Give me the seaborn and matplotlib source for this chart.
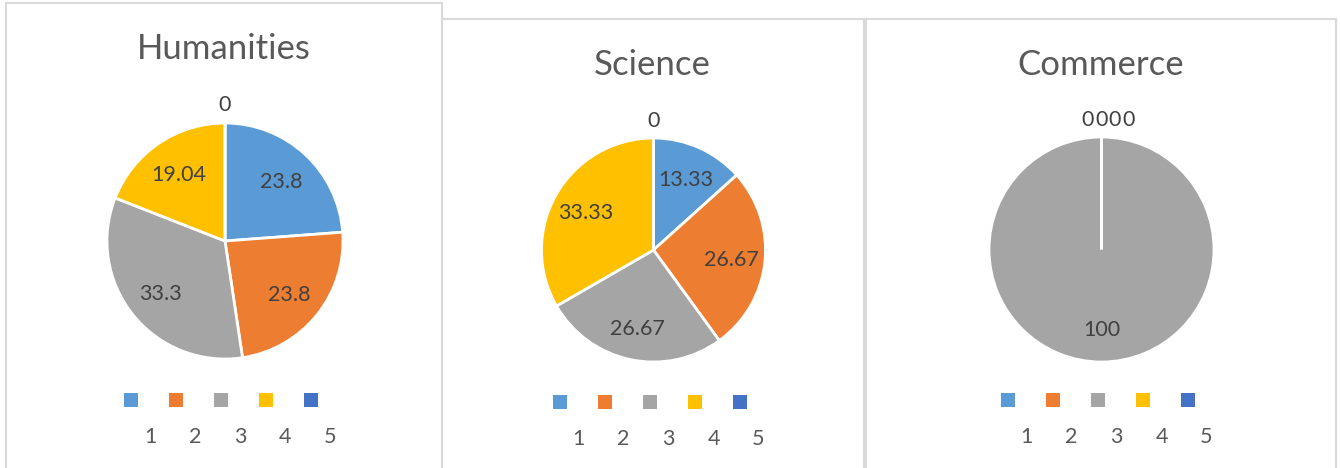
import numpy as np
import pandas as pd
import matplotlib
matplotlib.use('Agg')
import matplotlib.pyplot as plt
import seaborn as sns
from matplotlib.lines import Line2D
from matplotlib.patches import Rectangle

# data
categories = ['1', '2', '3', '4', '5']
humanities = [23.8, 23.8, 33.3, 19.04, 0]
science = [13.33, 26.67, 26.67, 33.33, 0]
commerce = [0, 0, 100, 0, 0]
titles = ['Humanities', 'Science', 'Commerce']

sns.set_theme(style='white')
plt.rcParams['font.family'] = ['Lato', 'DejaVu Sans']
colors = sns.color_palette(['#5B9BD5', '#ED7D31', '#A5A5A5', '#FFC000', '#4472C4'])

W, H = 1340, 468
fig = plt.figure(figsize=(W / 100, H / 100), dpi=100)


def fx(x):
    return x / W


def fy(y):
    return 1 - y / H


# panel borders (pixel layout)
border = '#d9d9d9'
for xs, ys in [([6, 6], [3, 470]), ([6, 442], [3, 3]), ([442, 442], [3, 470]),
               ([442, 864], [19, 19]), ([864, 864], [19, 470]),
               ([866, 1336], [19, 19]), ([866, 866], [19, 470]), ([1336, 1336], [19, 470])]:
    fig.add_artist(Line2D([fx(x) for x in xs], [fy(y) for y in ys],
                          transform=fig.transFigure, color=border, lw=1.5))

# pie layout: center x, center y, radius, title baseline, legend y
layout = [(225, 241, 118, 59, 400), (653.5, 250, 112, 75, 402), (1101.5, 249.5, 112.5, 75, 400)]

df = pd.DataFrame({'category': categories, 'Humanities': humanities,
                   'Science': science, 'Commerce': commerce})

for title, (cx, cy, r, ty, ly) in zip(titles, layout):
    vals = df[title].values
    ax = fig.add_axes([fx(cx - r), fy(cy + r), 2 * r / W, 2 * r / H])
    wedges, _ = ax.pie(vals, colors=colors, startangle=90, counterclock=False,
                       radius=1, wedgeprops={'edgecolor': 'white', 'linewidth': 2})
    ax.set_xlim(-1, 1)
    ax.set_ylim(-1, 1)
    ax.axis('off')

    zeros = [i for i, v in enumerate(vals) if v == 0]
    for i, (w, v) in enumerate(zip(wedges, vals)):
        ang = np.deg2rad((w.theta1 + w.theta2) / 2)
        if v == 0:
            d = 1.17
            k = zeros.index(i)
            dx = (k - 1) * 0.12 if len(zeros) > 1 else 0
        else:
            d = 0.7
            dx = 0
        txt = f'{v:g}'
        ax.text(d * np.cos(ang) + dx, d * np.sin(ang), txt, ha='center', va='center_baseline',
                fontsize=15.5, color='#404040', clip_on=False)

    fig.text(fx(cx - 1), fy(ty), title, ha='center', va='baseline', fontsize=25, color='#595959')

    # legend: squares with numbers set below-right
    for i, c in enumerate(categories):
        sx = cx - 4 + (i - 2) * 45
        fig.add_artist(Rectangle((fx(sx - 7), fy(ly + 7)), 14 / W, 14 / H,
                                 transform=fig.transFigure, color=colors[i], lw=0))
        fig.text(fx(sx + 19), fy(ly + 35), c, ha='center', va='center_baseline', fontsize=15.5,
                 color='#595959')

plt.savefig('out.png', dpi=100)
